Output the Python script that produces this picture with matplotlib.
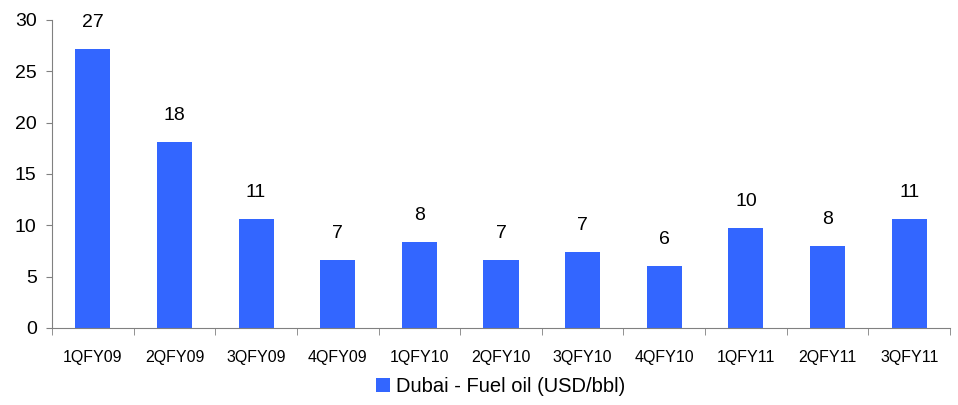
import matplotlib
matplotlib.use('Agg')
import matplotlib.pyplot as plt
import numpy as np

# ── DATA ──
quarters = ['1QFY09', '2QFY09', '3QFY09', '4QFY09', '1QFY10', '2QFY10',
            '3QFY10', '4QFY10', '1QFY11', '2QFY11', '3QFY11']
fuel_oil = [27.2, 18.1, 10.6, 6.6, 8.4, 6.6, 7.4, 6.0, 9.7, 8.0, 10.6]

BAR_COLOR = '#3366FF'
AXIS_COLOR = '#808080'

plt.rcParams['font.family'] = ['Liberation Sans', 'DejaVu Sans']

fig = plt.figure(figsize=(9.58, 4.05), dpi=100)
ax = fig.add_axes([52 / 958, 1 - 328 / 405, 898 / 958, 308 / 405])

x = np.arange(len(quarters))
ax.bar(x, fuel_oil, width=0.43, color=BAR_COLOR, label='Dubai - Fuel oil (USD/bbl)')

# value labels above each bar
for xi, v in zip(x, fuel_oil):
    ax.annotate(f'{v:.0f}', (xi, v), xytext=(0, 13), textcoords='offset points',
                ha='center', va='bottom', fontsize=14)

ax.set_xlim(-0.5, len(quarters) - 0.5)
ax.set_ylim(0, 30)
ax.set_yticks(range(0, 31, 5))
ax.tick_params(axis='y', labelsize=14, length=4, color=AXIS_COLOR, pad=7)

# category labels centred under bars, tick marks between categories
ax.set_xticks(x)
ax.set_xticklabels(quarters, fontsize=11.5, family=['Liberation Sans Narrow', 'Liberation Sans'])
ax.tick_params(axis='x', length=0, pad=16)
ax.set_xticks(np.arange(-0.5, len(quarters), 1), minor=True)
ax.tick_params(axis='x', which='minor', length=5, color=AXIS_COLOR, direction='out')

for side in ['top', 'right']:
    ax.spines[side].set_visible(False)
for side in ['left', 'bottom']:
    ax.spines[side].set_color(AXIS_COLOR)

ax.legend(loc='upper center', bbox_to_anchor=(0.5, -0.1), frameon=False,
          fontsize=14.5, handlelength=0.7, handleheight=0.7, handletextpad=0.3)

plt.savefig('out.png', dpi=100)
